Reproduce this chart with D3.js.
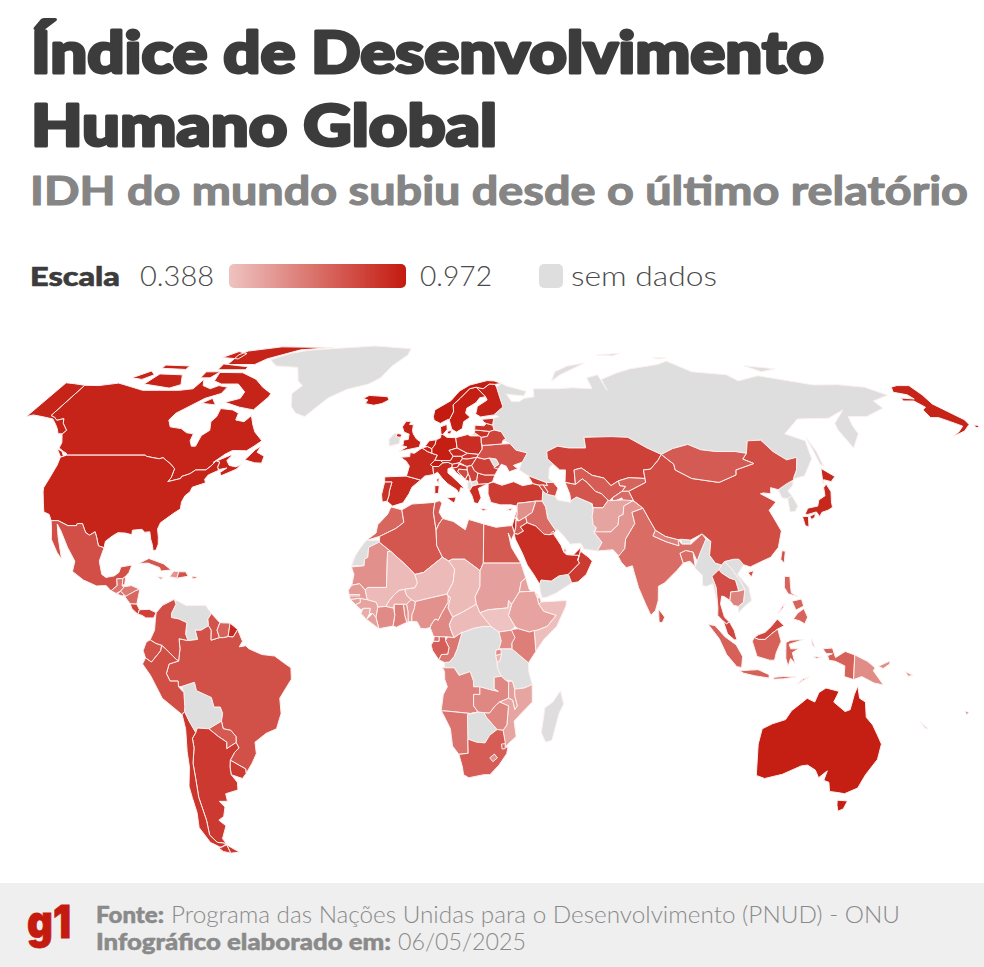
<!DOCTYPE html>
<html lang="pt-BR">
<head>
<meta charset="utf-8">
<title>Índice de Desenvolvimento Humano Global</title>
<script src="https://cdn.jsdelivr.net/npm/d3@7"></script>
<style>
  html, body { margin: 0; padding: 0; background: #fff; }
  svg { display: block; }
  text { font-family: Lato, "Noto Sans", sans-serif; }
</style>
</head>
<body>
<svg id="chart" width="984" height="967"></svg>
<script>
// Textos
const titulo = ["Índice de Desenvolvimento", "Humano Global"];
const subtitulo = "IDH do mundo subiu desde o último relatório";
const escalaMin = 0.388, escalaMax = 0.972;

const idhAmericas = [["CAN",.939],["USA",.938],["AK1",.938],["AK2",.938],["MEX",.789],["GTM",.662],["BLZ",.721],["HND",.645],["SLV",.678],["NIC",.706],["CRI",.833],["PAN",.839],["CUB",.762],["HTI",.554],["DOM",.776],["JAM",.72],["PRI",.85],["BRA",.786],["COL",.788],["GUY",.776],["SUR",.722],["GUF",.92],["ECU",.777],["PER",.794],["PRY",.756],["URY",.862],["ARG",.865],["CHL",.878]];
const idhEuropa = [["ESP",.918],["PRT",.89],["FRA",.92],["BEL",.951],["NLD",.955],["CHE",.97],["ITA",.915],["DEU",.959],["DNK",.962],["AUT",.93],["CZE",.915],["POL",.906],["SVK",.88],["HUN",.87],["SVN",.931],["HRV",.889],["BIH",.804],["SRB",.833],["MNE",.862],["BGR",.845],["ROU",.845],["GRC",.908],["CYP",.913],["UKR",.779],["BLR",.824],["LTU",.895],["LVA",.889],["EST",.905],["FIN",.948],["SWE",.959],["NOR",.97],["GBR",.946],["ISL",.972]];
const idhAsia = [["GEO",.844],["ARM",.811],["AZE",.789],["TUR",.853],["SYR",.564],["LBN",.752],["ISR",.919],["JOR",.754],["IRQ",.695],["SAU",.9],["OMN",.858],["ARE",.94],["KWT",.852],["QAT",.886],["KAZ",.837],["UZB",.74],["TKM",.764],["KGZ",.72],["TJK",.691],["AFG",.496],["PAK",.544],["IND",.685],["NPL",.622],["BGD",.685],["LKA",.776],["CHN",.797],["TWN",.78],["MNG",.747],["JPN",.925],["THA",.798],["KHM",.606],["MYS",.819],["IDN",.728],["PHL",.72],["PNG",.576],["TLS",.634]];
const idhAfrica = [["MAR",.71],["MRT",.563],["DZA",.763],["TUN",.746],["LBY",.721],["EGY",.754],["MLI",.419],["NER",.419],["TCD",.416],["SDN",.511],["SSD",.388],["ERI",.503],["DJI",.513],["ETH",.497],["SOM",.404],["KEN",.628],["UGA",.582],["RWA",.578],["BDI",.439],["COG",.649],["GAB",.733],["GNQ",.674],["CMR",.588],["CAF",.414],["NGA",.56],["BEN",.515],["TGO",.571],["GHA",.628],["BFA",.459],["CIV",.582],["LBR",.51],["SLE",.467],["GIN",.5],["GNB",.514],["SEN",.53],["GMB",.524],["AGO",.616],["ZMB",.595],["MWI",.517],["MOZ",.493],["ZWE",.598],["NAM",.665],["ZAF",.741],["LSO",.55],["SWZ",.695]];
const idhOceania = [["AUS",.958],["FJI",.813],["SLB",.584]];
const semDados = ["RUS","GRL","SVA","VEN","BOL","IRL","ALB","MKD","MDA","IRN","YEM","BTN","PRK","KOR","MMR","LAO","VNM","ESH","COD","TZA","BWA","MDG","NCL"];

// Contornos simplificados em lon,lat (anéis separados por |)
const contornos = {
RUS:"31,70.2 33,69.4 41,67.7 40,66.3 35,66.6 33,66.8 35,64.5 38,64.5 40,65.5 44,66 44,68.5 54,68.5 60,68.8 68,68.5 67,72 72,73 74,68 73,71.5 80,73.5 87,75 100,76.5 105,77.7 113,74 127,73 130,71 140,72.7 160,69.7 170,69.8 180,69 186,66.5 178,64.7 179,62.5 170,60 163,60 162,57.5 162,55 157,51 155.5,56 156,58 163,62 155,59.5 143,59.3 135,55 141,53 140,48 135,43.5 131,42.7 131,43 133,45 135,48.4 131,47.7 127.5,50 125,53.2 120,53 117.8,49.5 114,50 107,50 102,50.5 98,52 92,50.8 87.5,49.2 83,51 77,54 71,54.2 61,54 61,51 55,51 51,51.5 47,50 47,48 49,46.5 47.5,45.6 47,42.8 48.5,41.8 46,41.8 40,43.5 37,45 38,47.1 40,49.6 36,50.4 34,52.2 31.5,53.2 32.5,53.5 30.8,55.6 28.2,56.1 27.6,57.5 28,59.5 30,60 28,60.5 31.5,62.9 29.8,67 29,69|52,71 56,73 68,77 60,76 54,74|142,54 143,50 143,46 142,46.5 142,50|138,76 145,75.5 150,75 143,74|19.8,54.4 22.8,54.4 21,55.3",
SVA:"75,80 86,80.6 82,79.6|100,79 106,79 102,78.5",
GRL:"-73,78.2 -68,76 -58,75.5 -54,71 -51,69.5 -53.5,67 -51,63 -48,61 -44,60 -42,62 -38,65.7 -32,68.3 -24,70 -20,72 -17,76 -12,80 -12,82.5 -30,83.7 -50,82.5 -60,81.8 -67,80.5",
CAN:"-141,69.6 -135,69.5 -128,70.3 -125,69.8 -115,68 -108,68 -100,68 -95,68.5 -94,71.5 -92,69.5 -88,68.5 -85.5,69.5 -81.5,69 -82,67 -87,65.5 -94,61 -94.8,59 -92.5,57 -88,56.5 -85,55.3 -82.3,55 -82,53 -80.5,51.5 -79,51.5 -79,54.5 -77,56 -78.5,58.5 -77.5,60 -78,62.4 -73,62 -70,61 -69.5,59 -66,58.5 -64.5,60.3 -62,57.5 -60,55.5 -56,53 -58,51.5 -60,50.2 -65,50.3 -67,49.3 -70,47 -65,49 -64.5,48.8 -65.5,47.5 -64,46.2 -61.5,45.8 -60,46.5 -61,45.2 -65.5,43.5 -66.3,44.3 -64.5,45.5 -67,45.1 -67.8,45.7 -67.8,47.1 -69.2,47.4 -70.3,46 -71.5,45 -75,45 -76.5,44 -79,43.3 -79,42.8 -83,42 -82.4,43 -82.5,45.3 -84.5,46.5 -88.4,48.3 -89.5,48 -92,48.3 -94.6,48.7 -95.2,49 -123,49 -123.5,49.5 -125,50 -127.5,51 -128,52.5 -130,54.5 -130.5,55 -130,56 -133.5,58 -135,59.4 -137,58.9 -139,59.8 -141,60.3|-128,50.8 -125.5,50 -123.5,48.4 -125,48.7|-59.3,47.7 -57,50.5 -55.5,51.5 -56,49.8 -53,48.7 -53,46.8 -55.5,46.9|-62,66 -65,62 -71,62.8 -78,64.3 -73,65.5 -73,67.5 -78,70 -85,70 -89,71 -90,73.8 -80,73.7 -72,71.5 -67,69 -62,67|-117,70 -105,68.7 -101.5,69.8 -105,73 -115,73.3|-125,72 -120,71.5 -117,73 -120,74.3|-90,76.5 -78,76.5 -75,78.5 -64,82 -50,83 -75,83.3 -88,81.5 -90,80|-92,74.7 -80,74.7 -80,75.7 -92,76.7|-96,79 -88,78.5 -87,80.5 -92,81.3|-117,75.2 -106,74.8 -106,76 -117,76.3|-96,72 -92,72 -90,74 -96,74|-87,64 -81,63.5 -84,65.5",
AK1:"-141,69.6 -141,60.3 -139,59.8 -137,58.9 -135,59.4 -133.5,58 -130,56 -130.5,55 -132,55 -134,56.5 -136,57.7 -139,59.3 -144,60 -148,60.5 -150,60 -150,70.4 -146,70.1",
AK2:"191,69 194,69.5 199,69.5 200,66.6 200,63.8 206,59.1 206,57.7 202,55.8 196,54.2 199.5,55.5 203,57.2 200,58.5 197,59.7 194,59.7 194,62 196,62.8 194,64.7 190,64.7 190,65.6 195,65.3 194,66.6 189.5,67.4|207.5,57.5 208.8,57.5 208.8,56.8 207.5,56.8",
USA:"-124.7,48.4 -123,49 -95.2,49 -94.6,48.7 -92,48.3 -89.5,48 -88.4,48.3 -84.5,46.5 -82.5,45.3 -82.4,43 -83,42 -79,42.8 -79,43.3 -76.5,44 -75,45 -71.5,45 -70.3,46 -69.2,47.4 -67.8,47.1 -67.8,45.7 -67,44.9 -70,43.7 -70.7,42.6 -70,41.7 -74,40.6 -74.2,39.5 -75.5,38.5 -76,37 -75.7,35.3 -77.5,34.3 -79,33.3 -81,32 -81.4,30.5 -80.5,28.5 -80,26.8 -80.3,25.3 -81.2,25.2 -81.9,26.7 -82.8,28 -83.7,29.8 -85.3,29.7 -86.5,30.4 -89.5,30.2 -89.3,29.1 -91.5,29.5 -94,29.6 -95.5,28.8 -97.3,27.5 -97.2,25.9 -99.2,26.4 -100.5,28.5 -101.5,29.8 -103,29 -104.5,29.6 -106.5,31.8 -108.2,31.8 -108.2,31.3 -111,31.3 -114.8,32.5 -117.1,32.5 -118.5,34 -120.6,34.6 -122,36.8 -123.8,39.5 -124.3,40.5 -124,43 -124,46.3",
MEX:"-117.1,32.5 -114.8,32.5 -111,31.3 -108.2,31.3 -108.2,31.8 -106.5,31.8 -104.5,29.6 -103,29 -101.5,29.8 -100.5,28.5 -99.2,26.4 -97.2,25.9 -97.7,22.5 -96,19 -94.5,18.2 -92,18.6 -90.7,19.5 -90.4,21 -87,21.5 -87.5,19.5 -88.3,18.5 -89.1,17.9 -91,17.8 -90.5,16 -92.2,14.6 -94,16 -97,15.9 -101.5,17.5 -105.5,19.8 -105.5,22.5 -109,26 -112.7,30 -114.7,31.7 -113,28.5 -109.9,23 -112,24.8 -115,28 -116,30.5",
GTM:"-92.2,14.6 -90.5,16 -91,17.8 -89.1,17.9 -88.9,15.9 -88.2,15.7 -89.2,14.5 -90.5,13.9",
BLZ:"-89.1,17.9 -88.3,18.5 -88.2,16.5 -88.9,15.9",
HND:"-89.2,14.5 -88.2,15.7 -86,16 -83.2,15 -84.5,14.6 -87,13 -87.8,13.4",
SLV:"-90.1,13.7 -89.2,14.5 -87.8,13.4 -88.5,13.2",
NIC:"-87.6,13 -84.5,14.6 -83.2,15 -83.6,11 -85.7,11.1",
CRI:"-85.7,11.1 -83.6,11 -82.6,9.5 -83,8.3 -85,9.8",
PAN:"-83,8.3 -82.6,9.5 -79.5,9.6 -77.3,8.7 -78,7.3 -80.4,7.3 -81.7,8",
CUB:"-85,21.9 -82,23.2 -77,21.8 -74.2,20.2 -77.5,19.9 -78,20.8 -82,22",
HTI:"-74.4,18.4 -72,18 -71.7,19.7 -73.3,19.9",
DOM:"-71.7,19.7 -72,18 -68.5,18.5 -69.5,19.7",
JAM:"-78.3,18.4 -76.3,18.2 -77,17.7",
PRI:"-67.2,18.5 -65.7,18.4 -66,18 -67.2,18",
BRA:"-51.6,4.2 -50,1 -51,-0.5 -49,-0.2 -48,-1 -44,-2.5 -40,-2.9 -37,-4.8 -35,-6 -35,-9 -37,-11.5 -39,-14 -39,-18 -41,-22 -44.5,-23.2 -48.5,-25.5 -48.7,-28.5 -50.7,-31 -53.4,-33.7 -53.2,-32.5 -57.6,-30.2 -55.7,-28.2 -54,-27 -54.6,-25.6 -54.3,-24 -55.7,-22.4 -58,-22 -58.2,-20 -57.5,-18 -58,-16.3 -60,-16.3 -60.5,-13.8 -65,-12 -65.4,-9.8 -69.5,-10.9 -70.5,-11 -70.5,-9.5 -73,-9.5 -74,-7.5 -73,-5 -70,-4.2 -69.5,-1 -69.8,1.7 -67,1.2 -66.8,1.2 -64,1.5 -64.8,4 -63,4 -60.7,5.2 -59.8,4 -59.8,1.3 -57.2,2 -56,2 -54.5,2.3 -52.9,2.2",
COL:"-77.3,8.7 -75.5,10.7 -72,12.3 -71.3,11 -72.5,8.5 -72.4,7.4 -70,7 -67.5,6 -67.8,3 -67,1.2 -69.8,1.7 -69.5,-1 -70,-4.2 -70.7,-3.8 -74,-1 -75.2,-0.1 -77,0.4 -78.8,1.4 -77.5,4 -77.4,7",
VEN:"-72,12.3 -68,10.6 -62,10.7 -60,8.5 -61,7 -60.7,5.2 -63,4 -64.8,4 -64,1.5 -66.8,1.2 -67,1.2 -67.8,3 -67.5,6 -70,7 -72.4,7.4 -72.5,8.5 -71.3,11",
GUY:"-60,8.5 -57.2,6 -58,4 -57.2,2 -59.8,1.3 -59.8,4 -60.7,5.2 -61,7",
SUR:"-57.2,6 -54,5.9 -54.5,2.3 -56,2 -57.2,2 -58,4",
GUF:"-54,5.9 -51.6,4.2 -52.9,2.2 -54.5,2.3",
ECU:"-78.8,1.4 -77,0.4 -75.2,-0.1 -75.5,-1.5 -78.5,-4.5 -80.3,-3.4 -81,-1.5 -80,0.8",
PER:"-80.3,-3.4 -78.5,-4.5 -75.5,-1.5 -75.2,-0.1 -74,-1 -70.7,-3.8 -70,-4.2 -73,-5 -74,-7.5 -73,-9.5 -70.5,-9.5 -70.5,-11 -69,-12.5 -69.2,-16.2 -69.5,-17.5 -70.4,-18.3 -76,-14 -79,-8 -81.3,-5",
BOL:"-69.5,-10.9 -65.4,-9.8 -65,-12 -60.5,-13.8 -60,-16.3 -58,-16.3 -57.5,-18 -58.2,-20 -62.6,-22 -66.2,-21.8 -67,-23 -68.5,-20 -69.5,-17.5 -69.2,-16.2 -69,-12.5",
PRY:"-62.6,-22 -58.2,-20 -58,-22 -55.7,-22.4 -54.3,-24 -54.6,-25.6 -58,-27.2 -57.6,-25.5 -60,-24",
URY:"-57.6,-30.2 -53.2,-32.5 -53.4,-33.7 -55,-35 -58.4,-34 -58.2,-32",
ARG:"-66.2,-21.8 -62.6,-22 -60,-24 -57.6,-25.5 -58,-27.2 -54.6,-25.6 -54,-27 -55.7,-28.2 -57.6,-30.2 -58.2,-32 -58.4,-34 -57,-36 -57.5,-38 -62,-39 -62.2,-41 -65,-41 -63.7,-42.5 -65.3,-45 -67.5,-46 -65.8,-47.5 -69,-51 -68.4,-52.3 -71.5,-52 -73,-50 -71.8,-46 -71.5,-40 -70.5,-35 -70,-31 -68.5,-27 -68.4,-24.5 -67,-23|-68.5,-52.7 -65.2,-54.7 -68.6,-55",
CHL:"-70.4,-18.3 -69.5,-17.5 -68.5,-20 -67,-23 -68.4,-24.5 -68.5,-27 -70,-31 -70.5,-35 -71.5,-40 -71.8,-46 -73,-50 -71.5,-52 -68.4,-52.3 -71,-53.5 -74,-52 -75.5,-48 -74,-44 -73.7,-40 -73.5,-37 -71.5,-32 -71,-28 -70,-22|-68.6,-55 -71,-54.5 -72,-53.5 -68.5,-52.7",
ISL:"-24,65.5 -22,66.4 -18,66.2 -14.5,66 -13.6,65 -16,63.9 -19,63.4 -22.5,63.9 -22,65",
ESP:"-9.2,43.2 -1.8,43.4 3.2,42.4 0.5,40.6 -0.3,39 -2,36.8 -5.4,36 -7.4,37.2 -7,38.5 -7,39.7 -6.5,41.9 -9,41.9",
PRT:"-9,41.9 -6.5,41.9 -7,39.7 -7,38.5 -7.4,37.2 -9,37 -9.5,38.8",
FRA:"-1.8,43.4 3.2,42.4 4.5,43.4 7.5,43.8 7,45.9 6.1,46.4 7.5,47.6 8.2,49 6.2,49.5 4.5,50 2.5,51 1.6,50.5 0,49.5 -1.6,49.7 -1.5,48.6 -4.7,48.4 -2.5,47.3 -1.2,46|8.6,42.5 9.5,43 9.4,41.5",
BEL:"2.5,51 4.3,51.4 6,50.8 6.2,49.5 4.5,50",
NLD:"3.4,51.4 4.7,53 7.2,53.3 7,52 6,50.8 4.3,51.4",
CHE:"6.1,46.4 7.5,47.6 9.6,47.5 10.4,46.9 9,45.9 7,45.9",
ITA:"7,45.9 9,45.9 10.4,46.9 12.2,47 13.7,46.5 13.7,45.7 12.3,45.3 12.4,44.2 13.6,43.5 16,41.9 18.5,40.2 17,40.5 16.6,39 15.7,40 12.5,41.5 10.5,42.9 8.8,44.4 7.5,43.8|8.2,41 9.7,41 9.6,39.1 8.4,39|12.5,38 15.6,38.2 15.1,36.7",
DEU:"6.2,49.5 8.2,49 7.5,47.6 9.6,47.5 13,47.5 13.8,48.7 12.2,50.3 15,51 14.2,53.9 11,54 9.4,54.8 8.7,54.9 8.7,53.9 7.2,53.3 7,52 6,50.8",
DNK:"8.7,54.9 9.4,54.8 10.8,56.2 10.5,57.7 8.2,57|11,55.7 12.5,56 12.2,55 11,55",
AUT:"9.6,47.5 13,47.5 13.8,48.7 16.9,48.7 17.1,48 16.2,46.9 13.7,46.5 12.2,47 10.4,46.9",
CZE:"12.2,50.3 13.8,48.7 16.9,48.7 18.8,49.5 15,51",
POL:"14.2,53.9 15,51 18.8,49.5 22.8,49.2 24,50.7 23.6,52.5 23.5,54 22.8,54.4 19.5,54.4 18.5,54.8",
SVK:"16.9,48.7 18.8,49.5 22.8,49.2 22.2,48.4 18.8,47.9 17.1,48",
HUN:"17.1,48 18.8,47.9 22.2,48.4 20.5,46.2 18.8,45.9 16.2,46.9",
SVN:"13.7,46.5 16.2,46.9 15.5,45.6 13.7,45.5",
HRV:"13.6,45.5 15.5,45.7 16.3,46.5 18.9,45.9 19,45 16,45.2 15.8,44.5 18.5,42.6 15.2,44.3 14.3,45.2",
BIH:"15.8,44.5 16,45.2 19,45 19.4,44 18.5,42.6",
SRB:"18.9,45.9 20.5,46.2 21.5,44.8 22.7,44.2 22.4,42.3 20.6,41.9 20,43 19.4,44 19,45",
MNE:"18.5,42.5 19.4,44 20,43 20,42",
ALB:"19.4,42 20.6,41.9 21,40.5 20,39.7 19.4,40.5",
MKD:"20.6,41.9 22.4,42.3 23,41.3 21,40.9",
BGR:"22.7,44.2 25,43.7 28.6,43.7 27.8,42 26.3,41.5 23,41.3 22.4,42.3",
ROU:"22.2,48.4 24.8,47.9 26.6,48.2 28.2,46 29.7,45.2 28.6,43.7 25,43.7 22.7,44.2 21.5,44.8 20.5,46.2",
MDA:"26.6,48.2 29,47.9 30,46.5 28.2,45.6 28.2,46",
GRC:"20,39.7 21,40.9 23,41.3 26.3,41.5 24,40.7 23,40.3 24,38 23,36.6 21.7,36.8 21,38.4|23.6,35.5 26.2,35.2 24.8,34.9",
CYP:"32.4,35 34.5,35.6 33.7,34.9",
UKR:"24,50.7 24,51.7 31,52.1 34,52.2 36,50.4 40,49.6 38.2,47.1 35,46.2 36.5,45.3 33.5,44.5 32.5,46 30.8,46.5 29.7,45.2 28.2,45.6 30,46.5 29,47.9 26.6,48.2 24.8,47.9 22.2,48.4 22.8,49.2",
BLR:"23.6,52.5 24,51.7 31,52.1 31.5,53.2 32.5,53.5 30.8,55.6 28.2,56.1 26.5,55.7 25.7,54.3 23.5,54",
LTU:"21,56.1 26.5,55.7 25.7,54.3 23.5,54 22.8,54.4 21,55.3",
LVA:"21,56.1 21,57.5 24.4,57.3 25.3,58 27.6,57.5 28.2,56.1 26.5,55.7",
EST:"23.5,59.2 28,59.5 27.6,57.5 25.3,58 24.4,58.3",
FIN:"21,60.8 23,59.9 28,60.5 31.5,62.9 29.8,67 29,69 28.3,69.9 26,70 23.5,68.5 20.6,69 24.6,66 25.3,65 21.5,63 21.3,61.5",
SWE:"11.2,59 12.5,56.3 14.3,55.5 16.4,56.5 16.7,58.5 19,59.8 17.2,61 17.5,62.5 21,64.2 22.3,65.7 24.6,66 20.6,69 18,68.5 14.5,65.5 12,63.5 12.5,61.5",
NOR:"5,60 5.5,58.9 8,58 10.8,59.2 11.2,59 12.5,61.5 12,63.5 14.5,65.5 18,68.5 20.6,69 23.5,68.5 26,70 28.3,69.9 31,70.2 28,71 25,71.1 18,69.7 14,67.8 11,64.8 5.2,62",
GBR:"-5.7,50 1.4,51.2 1.7,52.7 0,53.5 -1.5,55 -2,56 -2,57.6 -3.5,57.7 -3,58.6 -5,58.6 -6,57 -5,55.5 -3,54.9 -3,53.4 -4.7,53.2 -4.5,52 -5.2,51.7 -3,51.3|-7.3,55.1 -5.5,54.8 -6,54 -7.7,54.2",
IRL:"-7.7,54.2 -6,54 -6,52.2 -9.5,51.5 -10,53.5 -8.3,55.1 -7.3,55.1",
GEO:"40,43.5 46,41.8 46.5,41 43.5,41.1 41.5,41.5",
ARM:"43.5,41.1 45,41.2 46.5,39.5 46,38.9 44.8,39.7",
AZE:"45,41.2 46.5,41 46,41.8 48.5,41.8 50,40.4 48.9,38.4 46,38.9 46.5,39.5",
TUR:"26.3,41.5 28,41.9 31,41.1 35,42 38,41 41.5,41.5 43.5,41.1 44.8,39.7 44.4,37.2 42.3,37.2 38,36.8 36.2,36.7 36,36 34,36.3 30.5,36.3 27.3,36.9 26.3,39 26.3,40.5",
SYR:"36,36 36.2,36.7 38,36.8 42.3,37.2 41,34.5 38.8,33.4 36.5,32.4 35.8,33.4 36,34.6",
LBN:"35.1,33.1 35.8,33.4 36,34.6 35.6,34.6",
ISR:"34.3,31.3 35.1,33.2 35.6,33 35.5,31 35,29.5",
JOR:"35,29.5 35.5,31 35.6,32.6 36.5,32.4 38.8,33.4 39.2,32 37,31 38,30 36.1,29.2",
IRQ:"42.3,37.2 44.4,37.2 45.5,35.8 46,33 47.7,31 48.6,30 47.7,29.4 46.5,29.1 44.7,29.2 42,31.2 39.2,32 38.8,33.4 41,34.5",
IRN:"44.4,37.2 44.8,39.7 46,38.9 48.9,38.4 49.5,37.5 54,36.9 54,37.3 56,38.2 61,36.6 61.2,35 60.7,33.5 60.8,31.5 61.8,30.8 60.9,29.8 63.3,27.2 61.6,25.1 57.3,25.6 56.5,27 53,26.8 50.8,29 49,30.4 48.6,30 47.7,31 46,33 45.5,35.8",
SAU:"34.9,29.4 36.1,29.2 38,30 37,31 39.2,32 42,31.2 44.7,29.2 46.5,29.1 47.7,29.4 48.4,28.5 50,26.5 50.8,24.8 51.6,24.2 55.7,24 55.2,22.7 55.7,22 52,19 49,18.6 46.5,17.2 43.3,17.5 42.8,16.4 41,19 39,21.5 37.5,24.5 35.3,28",
YEM:"42.8,16.4 43.3,17.5 46.5,17.2 49,18.6 52,19 53,16.7 48,14 45,12.9 43.5,12.7 43,14.5",
OMN:"52,19 55.7,22 55.2,22.7 56,24.8 56.4,24.9 58.7,23.5 59.8,22.5 57.7,19 55,17 53,16.7",
ARE:"51.6,24.2 55.7,24 55.2,22.7 56,24.8 56.4,26 54,24.2",
KWT:"46.5,29.1 47.7,30 48.4,28.5 47.7,29.4",
QAT:"50.8,24.8 51.6,25 51.2,26.1",
KAZ:"47,50 51,51.5 55,51 61,51 61,54 71,54.2 77,54 83,51 87.5,49.2 85.7,47.5 82.5,45.2 80,45 80,42.8 74.5,43 70.8,42.2 68,41 66,42.9 62,43.6 58.6,45.5 56,45 56,41.3 52.5,41.8 53,45 51,45 49,46.5 47,48",
UZB:"56,45 58.6,45.5 62,43.6 66,42.9 68,41 70.8,42.2 71,41 73,40.8 71.5,39.6 68,38 67,37.3 66.5,37.4 64.5,39 62.5,39.6 60,41.8 58.5,42.7 56,41.3",
TKM:"52.5,41.8 56,41.3 58.5,42.7 60,41.8 62.5,39.6 64.5,39 66.5,37.4 64.5,35.6 61.2,35.6 61,36.6 56,38.2 54,37.3 53.8,39",
KGZ:"70.8,42.2 74.5,43 80,42.8 80,41.8 73.8,39.6 71.5,39.6 73,40.8 71,41",
TJK:"68,38 71.5,39.6 73.8,39.6 75,37.3 71.5,37 71.2,38 68,37",
AFG:"61,36.6 61.2,35.6 64.5,35.6 66.5,37.4 67,37.3 71.5,37.5 74.8,37.3 71.5,36 71,34 69.5,33.5 69,31.5 66.4,29.8 61,29.5 61.8,30.8 60.8,31.5 60.7,33.5 61.2,35",
PAK:"61.6,25.1 63.3,27.2 60.9,29.8 66.4,29.8 69,31.5 69.5,33.5 71,34 71.5,36 74.8,37.3 77.8,35.5 74,34.5 74.5,31.8 71,28 70.5,25.7 68.5,23.7 66.7,25.4",
IND:"68.2,23.7 70.5,25.7 71,28 74.5,31.8 74,34.5 77.8,35.5 79.5,32.6 81,30.2 80,28.8 84,27.4 88,26.4 88,28 89,26.8 92,26.8 96,29.3 97,28 94.5,24.5 93.3,22.5 92.3,24.8 90,25.2 88.1,24.5 88.8,22 86.5,20 82.3,16.7 80.3,15.8 80,12 79,9.3 77.5,8 76,11 74,15.5 72.8,20 72.5,21.3 70.5,20.8 69,22.3",
NPL:"80,28.8 81,30.2 84,28.7 88,27.9 88,26.4 84,27.4",
BTN:"89,26.8 89,28 92,27.8 92,26.8",
BGD:"88.1,24.5 90,25.2 92.3,24.8 92.5,21 91,22.5 88.8,22",
LKA:"80,9.7 81.8,7.5 81,6 80,6.2",
CHN:"73.8,39.6 80,41.8 80,42.8 80,45 82.5,45.2 85.7,47.5 87.5,49.2 91,46.5 91,45 96,42.8 105,41.8 111.5,43.7 112,45 119,46.7 115.7,47.9 117.8,49.5 120,53 125,53.2 127.5,50 131,47.7 135,48.4 133,45 131,43 130.6,42.4 128,41.5 124.4,40 122,40.5 121.5,39 119,39.2 118,39 122.5,37 119.5,35 121,32 122,30 120,26 117,23.5 113.5,22.3 110,21 108,21.6 106.7,23 105,23 102,22.4 101,21.5 99,22 97.5,24 98.5,27.5 96,29.3 92,27.8 89,28 88,27.9 84,28.7 81,30.2 79.5,32.6 77.8,35.5 75,37.3|109,19.5 111,20 110,18.3",
TWN:"121,25.2 122,25 121,22 120.1,23",
MNG:"87.5,49.2 92,50.8 98,52 102,50.5 107,50 114,50 117.8,49.5 115.7,47.9 119,46.7 112,45 111.5,43.7 105,41.8 96,42.8 91,45 91,46.5",
PRK:"124.4,40 128,41.5 130.6,42.4 129.7,41 127.5,39.7 128.4,38.5 126.7,37.8 124.8,38",
KOR:"126.7,37.8 128.4,38.5 129.4,36 128,34.7 126.3,34.6",
JPN:"131,34 132.5,35.5 136,36 137,37.5 139.5,38.5 140,40.5 141.3,41.4 142,39.5 141,37 140.8,35.7 139,35 136.8,34.5 135.7,33.5 135,34.6 132,34|140.3,41.5 141.7,45.4 145.3,43.3 143.3,42 141,42.5|130,33.5 132,33.5 131.3,31 130.2,31.3|132.4,33.5 134.5,34.2 134,33.3 132.8,32.8",
MMR:"92.3,20.8 93.3,22.5 94.5,24.5 97,28 98.5,27.5 97.5,24 99,22 101,21.5 100,20.3 97.5,18.5 98.5,15.5 98.6,10 98,14 97.5,16.5 95.5,15.8 94.3,16 94.5,18.7",
THA:"100,20.3 100.5,19.5 103,18 104.8,17.5 105.5,14.5 103,14.3 102.5,12 100.9,13 100,13.2 99.5,11 100.5,7.5 102,6.2 101,5.7 100,6.5 98.4,8 98.6,10 98.5,15.5 97.5,18.5",
LAO:"101,21.5 102,22.4 104,20.5 106.5,17 107.5,15 105.5,14.5 104.8,17.5 103,18 100.5,19.5 100,20.3",
VNM:"102,22.4 105,23 106.7,23 108,21.6 105.7,19 108.8,15.5 109.3,12 107,10.4 105,8.7 105,10.4 106.7,11.5 107.5,15 106.5,17 104,20.5",
KHM:"102.5,12 103,14.3 105.5,14.5 107.5,15 106.7,11.5 105,10.4 103.5,10.7",
MYS:"100.1,6.4 101,5.7 102,6.2 103.4,4 104.2,1.4 103.4,1.4 101.3,3|109.6,2 111,1.5 113,1.5 115,3 117,4.3 119,5.2 117,7 115,5 113,3.4 111,2.8",
IDN:"109,1 109.6,2 111,1.5 113,1.5 115,3 117,4.3 118,1 116.5,-2 116,-4 114.5,-4 110.5,-3|95.3,5.6 97.5,5.2 100.5,2.2 104,0 106,-3 105.8,-5.9 104.3,-5.7 101,-2.5 98.7,1.7|105.2,-6.8 108.5,-6.6 111,-6.5 114.5,-7.8 114.5,-8.7 110,-8.1 106.5,-7.4|116,-8.5 119,-8.3 123,-8.4 119,-8.9 116,-9|123.5,-10.3 125,-9 125,-9.5|119.5,0.7 121,1.3 125,1.5 120.5,0.2 121,-1 123.5,-1 121.5,-2 122.5,-5 121,-3.5 120.3,-5.6 119.5,-3.5|131,-1 134,-0.8 135,-3.3 138,-1.7 141,-2.6 141,-9.1 138,-8.3 138,-5.5 135,-4.3 133,-4 132.5,-2.8 134,-2.3 132,-2.2|127.5,1.7 128.5,-0.8 127.7,0|128,-3 130.8,-3.2 129,-3.5",
TLS:"125,-9 127,-8.4 125,-9.5",
PNG:"141,-2.6 145,-4.3 147.5,-6 147,-6.8 150.5,-10.5 147.5,-10 143.5,-8.3 141,-9.1|148.5,-5.6 152,-4.2 152,-5 150,-6.2",
PHL:"120.5,18.5 122.2,18.4 122,16 122,14 124,13 121,13.8 120,15.5|122,7 123.5,8.6 125.5,9.8 126.5,7.5 125.5,5.7 124,6.5|122,11.8 125,12.4 125.5,10.5 123,9.4|117.3,8.4 119.5,11.3 119,10",
AUS:"114,-22 113.5,-26 115,-34.2 118,-35 123.5,-33.9 129,-31.7 131,-31.5 134,-32.8 135.8,-34.8 138,-33 137.8,-35.5 139.7,-36 141,-38.4 144,-38.7 146.3,-39 150,-37.5 151,-34 153.3,-30 153.2,-26 151,-23.4 149,-21 146.5,-19 145.5,-15 143.5,-14 142.5,-10.8 141.7,-13 141,-17 139.5,-17.5 135.5,-15 136.8,-12.2 132.6,-11.3 130.5,-12.5 129.5,-15 127,-14 125,-15.5 122.5,-17.3 121,-19.6 117,-20.7|144.7,-40.7 148.3,-40.9 148,-43 146.5,-43.6 145.3,-42",
FJI:"177.5,-17.5 178.7,-17.7 178.2,-18.3",
SLB:"157,-7 159.5,-8 158,-8.2",
NCL:"164,-20.2 167,-22 166,-22",
MAR:"-5.9,35.8 -2.2,35.1 -1.2,32.1 -3.7,30.6 -8.7,28.7 -13,27.7 -10,29.5 -9.7,31.5 -6.8,34",
ESH:"-13,27.7 -8.7,27.7 -8.7,27.3 -12,26 -12,23.5 -13,23 -13,21.3 -17,21.3 -16,24 -14.5,26",
MRT:"-17,21 -16,19 -16.5,16.1 -14,16.5 -12.2,14.8 -11.3,15.5 -5.5,15.5 -5.8,24.9 -4.8,25 -8.7,27.3 -12,26 -12,23.5 -13,23 -13,21.3",
DZA:"-2.2,35.1 1,36.5 8.6,36.9 8.3,34.5 9.5,30.2 9.9,26.5 11.9,23.5 6,19.5 3.3,19 1,21 -4.8,25 -8.7,27.3 -8.7,28.7 -3.7,30.6 -1.2,32.1",
TUN:"8.6,36.9 10,37.3 11,36.8 10.2,34.5 11.5,33 10.3,31.7 9.5,30.2 8.3,34.5",
LBY:"11.5,33 15,32.3 19,30.3 20,32.8 25,31.7 25,22 24,20 19,23 15,23 14,22.5 11.9,23.5 9.9,26.5 9.5,30.2 10.3,31.7",
EGY:"25,31.7 29,30.9 32.5,31.2 34.3,31.3 35,29.5 34,27.8 33,29.5 34,26 37,22 25,22",
MLI:"-12.2,14.8 -11.3,15.5 -5.5,15.5 -5.8,24.9 -4.8,25 1,21 3.3,19 4.2,16.8 3.5,15.4 0.2,15 -1.5,14.7 -3,13.5 -4.4,12 -5.5,10.4 -8,10.2 -8.5,11.5 -11.4,12.2",
NER:"3.5,15.4 4.2,16.8 3.3,19 6,19.5 11.9,23.5 14,22.5 15,23 15.9,20.4 15.5,16.9 13.6,13.7 9,12.8 3.7,11.7 2.4,12.2 1,13.3 0.2,15",
TCD:"14,22.5 15,23 19,23 24,20 24,15.7 22.5,13 22.9,11 18.9,9 15.5,7.5 14,10 14.7,12.7 13.6,13.7 15.5,16.9 15.9,20.4",
SDN:"24,20 25,22 37,22 38.5,18 37,17 36.4,14.3 34,11 33,12 32.8,10 26.7,9.5 24,8.7 22.9,11 22.5,13 24,15.7",
SSD:"24,8.7 26.7,9.5 32.8,10 33,12 34,11 33,8 35,5 33.9,4 30,3.5 27.5,5 25,5",
ERI:"36.4,14.3 37,17 38.5,18 39.5,15 43,12.6 41.2,14.5",
DJI:"42,12.7 43,12.6 43.2,11.6 42.5,11",
ETH:"36.4,14.3 41.2,14.5 42,12.7 42.5,11 44,9.1 47.9,8 45,5 42,4 39.5,3.5 36,4.4 35,5 33,8 34,11",
SOM:"42.5,11 43.2,11.6 51.2,12 51,10.5 48,5 44,1.5 41.5,-1.7 41,3.9 42,4 45,5 47.9,8 44,9.1",
KEN:"34,4.2 36,4.4 39.5,3.5 41,3.9 41.5,-1.7 39.2,-4.7 34,-1 34,0.5",
UGA:"30,3.5 33.9,4 35,2 34,0.5 34,-1 30,-1 30.7,1",
RWA:"29,-1.4 30.5,-1.1 30.8,-2.3 29,-2.8",
BDI:"29,-2.8 30.8,-2.3 30.2,-4.3 29.4,-4.4",
TZA:"30,-1 34,-1 39.2,-4.7 39.3,-7 40.4,-10.4 38,-11.3 34.9,-11.6 34.2,-9.5 32,-9.2 30.7,-8.2 29.5,-6 29.4,-4.4 30.2,-4.3 30.8,-2.3",
COD:"12.3,-6 13,-5.8 13,-4.6 14.5,-4.5 16,-3 17,-1 18,2 18.5,3.5 19,3.5 22,4.5 25,5 27.5,5 30,3.5 30.7,1 30,-1 29,-1.4 29,-2.8 29.4,-4.4 29.5,-6 30.7,-8.2 28.5,-8.5 28.5,-11.5 29.8,-12.2 28.5,-12 27,-11.7 24,-11 22,-11 22,-9.5 21,-7 17.5,-8 16,-6",
COG:"11.2,-3.9 13,-4.6 14.5,-4.5 16,-3 17,-1 18,2 18.5,3.5 16,2 14,2.2 13.3,1.2 14.4,-0.7 14,-2.4 12,-2.5",
GAB:"9.3,-1.5 8.8,0 9.6,1 11.3,1 11.3,2.3 13.3,2.2 13.3,1.2 14.4,-0.7 14,-2.4 12,-2.5 11.2,-3.9",
GNQ:"9.6,1 11.3,1 11.3,2.3 9.8,2.3",
CMR:"8.5,4.7 9.6,2.3 13.3,2.2 14,2.2 16,2 15,4 14.5,5.5 15.5,7.5 14,10 14.7,12.7 14,13 14,11.5 12,8.5 11,6.7 10,7 8.8,5.5",
CAF:"14.5,5.5 15,4 16,2 18.5,3.5 19,3.5 22,4.5 25,5 27.5,5 24,8.7 22.9,11 18.9,9 15.5,7.5",
NGA:"2.7,6.4 4.4,6.3 5.5,4.5 7,4.4 8.5,4.7 8.8,5.5 10,7 11,6.7 12,8.5 14,11.5 14,13 13.6,13.7 9,12.8 3.7,11.7 3.5,10 2.7,8",
BEN:"1.6,6.2 2.7,6.4 2.7,8 3.5,10 3.7,11.7 2.4,12.2 1,11 1.5,9",
TGO:"1.2,6.1 1.6,6.2 1.5,9 1,11 0,11 0.5,8",
GHA:"-3.1,5.1 -2,4.8 1.2,6.1 0.5,8 0,11 -2.9,11 -2.6,8",
BFA:"-5.5,10.4 -4.4,12 -3,13.5 -1.5,14.7 0.2,15 1,13.3 2.4,12.2 1,11 0,11 -2.9,11 -3,9.9",
CIV:"-8.5,7.5 -7.5,4.4 -3.1,5.1 -2.6,8 -3,9.9 -5.5,10.4 -8,10.2",
LBR:"-11.4,6.9 -7.5,4.4 -8.5,7.5 -9.5,8.5",
SLE:"-13.2,8.5 -11.4,6.9 -10.5,8.5 -10.3,9.9 -12.5,9.9",
GIN:"-15,10.9 -13.2,9.5 -12.5,9.9 -10.3,9.9 -10.5,8.5 -9.5,8.5 -8.5,7.5 -8,10.2 -8.5,11.5 -11.4,12.2 -13.7,12.6 -13.5,11.5",
GNB:"-16.7,12.3 -13.7,12.6 -13.5,11.5 -15,10.9",
SEN:"-17.5,14.7 -16.5,16.1 -14,16.5 -12.2,14.8 -11.4,12.2 -13.7,12.6 -16.7,12.3",
GMB:"-16.8,13.6 -13.8,13.6 -13.8,13.2 -16.8,13.2",
AGO:"12.3,-6 16,-6 17.5,-8 21,-7 22,-9.5 22,-11 24,-11 24,-13 22,-13 22,-16 23.4,-17.6 21,-18 13.9,-17.4 11.7,-17.3 12.5,-13 13.8,-11 13,-9 13,-7",
ZMB:"22,-13 24,-13 24,-11 27,-11.7 28.5,-12 29.8,-12.2 28.5,-11.5 28.5,-8.5 30.7,-8.2 32,-9.2 33.5,-10 33,-14 30.2,-15 29,-15.8 27,-17.9 25.3,-17.8 23.4,-17.6 22,-16",
MWI:"33,-9.6 34.2,-9.5 34.9,-11.6 35,-13.5 35.8,-16 35,-17 34.3,-14.5 33,-14",
MOZ:"34.9,-11.6 38,-11.3 40.4,-10.4 40.5,-15 37,-18 34.8,-20 35.5,-24 32.9,-26 32,-26.8 31.3,-22.4 32.5,-21 33,-16 30.2,-15 33,-14 34.3,-14.5 35,-17 35.8,-16 35,-13.5",
ZWE:"25.3,-17.8 27,-17.9 29,-15.8 30.2,-15 33,-16 32.5,-21 31.3,-22.4 29.4,-22.2 26,-19",
BWA:"20,-18.3 21,-18 23.4,-17.6 25.3,-17.8 26,-19 29.4,-22.2 27,-23.7 25.5,-25.7 22.8,-25.5 20,-24.7 20,-22",
NAM:"11.7,-17.3 13.9,-17.4 21,-18 23.4,-17.6 20,-18.3 20,-22 20,-28.4 17,-28.7 15,-26.5 14.5,-22 12.5,-18.5",
ZAF:"17,-28.7 20,-28.4 20,-24.7 22.8,-25.5 25.5,-25.7 27,-23.7 29.4,-22.2 31.3,-22.4 32,-25.5 32,-26.8 32.9,-26.8 32.5,-28.5 30,-31.5 27,-34 25,-34 20,-34.8 18.3,-34 18,-32",
LSO:"27,-29.6 28.5,-28.6 29.5,-29.6 28,-30.6",
SWZ:"30.8,-26 32,-25.9 32,-27.2 31,-27.3",
MDG:"49.3,-12 50.4,-15.5 49,-18 47,-25 45,-25.5 43.5,-23 44,-20 44.5,-16.5 47,-15"
};

// Cores
const corClara = "#eec3c1", corEscura = "#c41a0f", corSemDados = "#dedede";
const cor = d3.scaleLinear().domain([escalaMin, escalaMax]).range([corClara, corEscura]);

// Monta as features
function anel(txt) {
    const pts = txt.trim().split(" ").map(p => p.split(",").map(Number));
    pts.push(pts[0]);
    return pts;
}
function feature(id, valor) {
    return {
        type: "Feature", id, valor,
        geometry: { type: "MultiPolygon", coordinates: contornos[id].split("|").map(r => [anel(r)]) }
    };
}
const linhas = [...idhAmericas, ...idhEuropa, ...idhAsia, ...idhAfrica, ...idhOceania];
const paises = semDados.map(id => feature(id, null)).concat(linhas.map(d => feature(d[0], d[1])));

// Projeção Natural Earth girada em 30°, sem corte no antimeridiano
const rad = Math.PI / 180, lon0 = 30;
const escalaMapa = 211, origemX = 499, origemY = 645;
const raw = d3.geoNaturalEarth1Raw;
// ajuste vertical fino: o mapa original é um pouco mais esticado longe do equador
function ajusteY(lat) {
    if (lat < 0) return 5 * (-lat / 55);
    const t = Math.min(1, Math.max(0, (lat - 20) / 28));
    return -8 * t * t * (3 - 2 * t);
}
const transform = d3.geoTransform({
    point(lon, lat) {
        const p = raw((lon - lon0) * rad, lat * rad);
        this.stream.point(origemX + escalaMapa * p[0], origemY - escalaMapa * p[1] + ajusteY(lat));
    }
});
const path = d3.geoPath(transform);

const svg = d3.select("#chart");

// Gradiente da legenda
const grad = svg.append("defs").append("linearGradient").attr("id", "escala");
grad.selectAll("stop").data([0, 0.5, 1]).join("stop")
    .attr("offset", d => d)
    .attr("stop-color", d => cor(escalaMin + d * (escalaMax - escalaMin)));

// Texto com largura fixa, para acompanhar a fonte original (Lato fica mais estreita)
function texto(x, y, str, size, weight, fill, largura, grossura) {
    const t = svg.append("text").attr("x", x).attr("y", y).attr("fill", fill)
        .attr("textLength", largura).attr("lengthAdjust", "spacingAndGlyphs")
        .style("font-size", size + "px").style("font-weight", weight)
        .text(str);
    if (grossura) t.attr("stroke", fill).attr("stroke-width", grossura).attr("stroke-linejoin", "round");
    return t;
}

// Título
texto(31, 73, titulo[0], 58, 900, "#3c3c3c", 793, 3);
texto(31, 146, titulo[1], 58, 900, "#3c3c3c", 466, 3);
texto(30, 205, subtitulo, 41, 700, "#858585", 938, 1.2);

// Legenda
texto(30, 286, "Escala", 27, 900, "#3c3c3c", 90, 0.6);
texto(140, 286, escalaMin.toFixed(3), 28, 300, "#4a4a4a", 74);
svg.append("rect").attr("x", 229).attr("y", 264).attr("width", 177).attr("height", 24).attr("rx", 5)
    .attr("fill", "url(#escala)");
texto(420, 286, escalaMax.toFixed(3), 28, 300, "#4a4a4a", 72);
svg.append("rect").attr("x", 539).attr("y", 264).attr("width", 24).attr("height", 24).attr("rx", 5)
    .attr("fill", corSemDados);
texto(571, 286, "sem dados", 28, 300, "#4a4a4a", 146);

// Mapa
svg.append("g").selectAll("path").data(paises).join("path")
    .attr("d", path)
    .attr("fill", d => d.valor === null ? corSemDados : cor(d.valor))
    .attr("stroke", "#fdf1f0")
    .attr("stroke-width", 1)
    .attr("stroke-linejoin", "round");

// Rodapé
svg.append("rect").attr("x", 0).attr("y", 883).attr("width", 984).attr("height", 84).attr("fill", "#efefef");
svg.append("text").attr("x", 27).attr("y", 938).attr("fill", corEscura)
    .attr("textLength", 44).attr("lengthAdjust", "spacingAndGlyphs")
    .attr("stroke", corEscura).attr("stroke-width", 0.8)
    .style("font-family", "Inter, Roboto, sans-serif")
    .style("font-size", "46px").style("font-weight", 900).text("g1");
texto(96, 923, "Fonte:", 23, 900, "#8a8a8a", 68, 0.5);
texto(171, 923, "Programa das Nações Unidas para o Desenvolvimento (PNUD) - ONU", 23, 300, "#8a8a8a", 729);
texto(96, 950, "Infográfico elaborado em:", 23, 900, "#8a8a8a", 295, 0.5);
texto(398, 950, "06/05/2025", 23, 300, "#8a8a8a", 128);
</script>
</body>
</html>
